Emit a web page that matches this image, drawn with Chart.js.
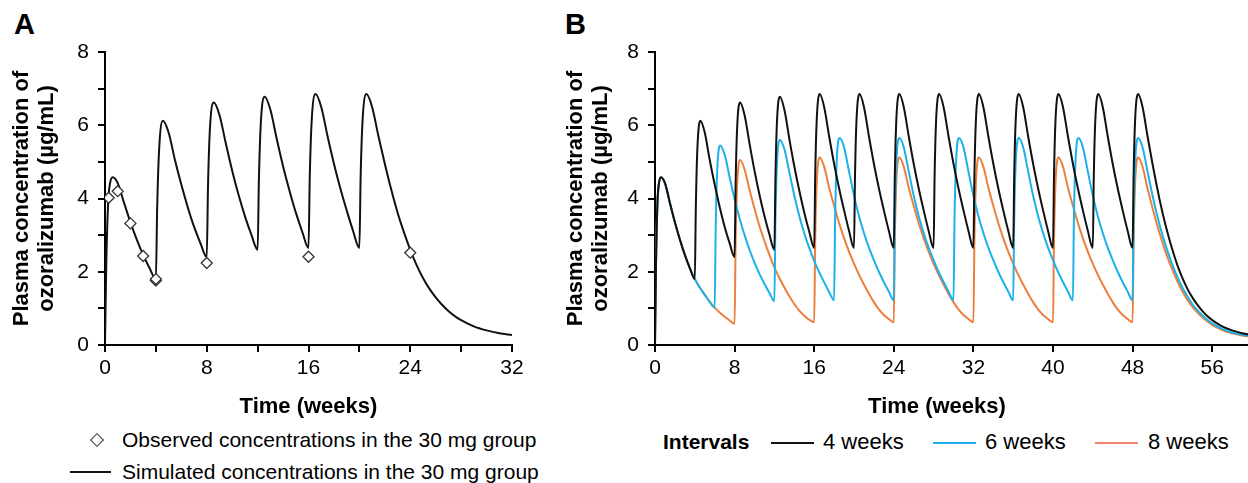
<!DOCTYPE html>
<html>
<head>
<meta charset="utf-8">
<script src="https://cdn.jsdelivr.net/npm/chart.js@4.4.1/dist/chart.umd.min.js"></script>
<style>
  html, body { margin: 0; padding: 0; background: #fff; overflow: hidden; }
  body { width: 1248px; height: 483px; position: relative; font-family: 'Liberation Sans', Arial, sans-serif; color: #000; }
  .panel { position: absolute; top: 0; }
  .tag { position: absolute; font-weight: bold; font-size: 29px; }
  .leg { position: absolute; font-size: 21px; white-space: nowrap; line-height: 24px; }
  .legB { font-size: 22px; }
  .swatch { position: absolute; height: 2px; }
  .diamond { position: absolute; width: 8px; height: 8px; border: 1.3px solid #333; transform: rotate(45deg); background: #fff; }
</style>
</head>
<body>
<div class="tag" style="left:14px;top:8px;">A</div>
<div class="tag" style="left:565px;top:8px;">B</div>
<canvas id="chartA" class="panel" style="left:0;" width="560" height="420"></canvas>
<canvas id="chartB" class="panel" style="left:560px;" width="692" height="420"></canvas>

<!-- leyenda panel A -->
<div class="diamond" style="left:92px;top:435px;"></div>
<div class="leg" style="left:122px;top:428px;">Observed concentrations in the 30 mg group</div>
<div class="swatch" style="left:70px;top:471px;width:41px;background:#111;"></div>
<div class="leg" style="left:122px;top:460px;">Simulated concentrations in the 30 mg group</div>

<!-- leyenda panel B -->
<div class="leg legB" style="left:663px;top:430px;font-weight:bold;font-size:21px;">Intervals</div>
<div class="swatch" style="left:771px;top:442px;width:43px;background:#111;"></div>
<div class="leg legB" style="left:823px;top:430px;">4 weeks</div>
<div class="swatch" style="left:933px;top:442px;width:43px;background:#1ab1ea;"></div>
<div class="leg legB" style="left:985px;top:430px;">6 weeks</div>
<div class="swatch" style="left:1095px;top:442px;width:43px;background:#f5836f;"></div>
<div class="leg legB" style="left:1148px;top:430px;">8 weeks</div>

<script>
// Datos: [semana, concentración µg/mL]

// primera dosis (común a los tres intervalos hasta la semana 4)
var primeraDosis = [[0,0],[0.1,2.2],[0.25,3.9],[0.4,4.42],[0.6,4.58],[1,4.42],[1.5,3.88],[2,3.35],[2.5,2.88],[3,2.46],[3.5,2.1]];

// cada 4 semanas, dosis 4 a 16
var q4wInicio = [
  [4,1.8],[4.1,3.7],[4.25,5.3],[4.55,6.12],[5,5.8],[5.5,5.05],[6,4.38],[6.5,3.77],[7,3.23],[7.5,2.78],
  [8,2.4],[8.1,4.35],[8.25,5.9],[8.55,6.62],[9,6.28],[9.5,5.5],[10,4.76],[10.5,4.1],[11,3.52],[11.5,3.02],
  [12,2.6],[12.1,4.5],[12.25,6.05],[12.55,6.78],[13,6.43],[13.5,5.63],[14,4.88],[14.5,4.22],[15,3.62],[15.5,3.1],
  [16,2.65],[16.1,4.6],[16.25,6.12],[16.55,6.85],[17,6.5],[17.5,5.7],[18,4.95],[18.5,4.28],[19,3.68],[19.5,3.12]
];

// panel A: última dosis en la semana 20 y eliminación
var q4wFinalA = [
  [20,2.65],[20.1,4.6],[20.25,6.12],[20.55,6.85],[21,6.5],[21.5,5.7],[22,4.95],[22.5,4.25],[23,3.62],[23.5,3.08],
  [24,2.6],[24.5,2.18],[25,1.83],[25.5,1.54],[26,1.3],[26.5,1.1],[27,0.93],[27.5,0.79],[28,0.68],[29,0.51],[30,0.4],[31,0.32],[32,0.27]
];

// panel B: cada 4 semanas, dosis 20 a 44
var q4wMedio = [
  [20,2.65],[20.1,4.6],[20.25,6.12],[20.55,6.85],[21,6.5],[21.5,5.7],[22,4.95],[22.5,4.28],[23,3.68],[23.5,3.12],
  [24,2.65],[24.1,4.6],[24.25,6.12],[24.55,6.85],[25,6.5],[25.5,5.7],[26,4.95],[26.5,4.28],[27,3.68],[27.5,3.12],
  [28,2.65],[28.1,4.6],[28.25,6.12],[28.55,6.85],[29,6.5],[29.5,5.7],[30,4.95],[30.5,4.28],[31,3.68],[31.5,3.12],
  [32,2.65],[32.1,4.6],[32.25,6.12],[32.55,6.85],[33,6.5],[33.5,5.7],[34,4.95],[34.5,4.28],[35,3.68],[35.5,3.12],
  [36,2.65],[36.1,4.6],[36.25,6.12],[36.55,6.85],[37,6.5],[37.5,5.7],[38,4.95],[38.5,4.28],[39,3.68],[39.5,3.12],
  [40,2.65],[40.1,4.6],[40.25,6.12],[40.55,6.85],[41,6.5],[41.5,5.7],[42,4.95],[42.5,4.28],[43,3.68],[43.5,3.12],
  [44,2.65],[44.1,4.6],[44.25,6.12],[44.55,6.85],[45,6.5],[45.5,5.7],[46,4.95],[46.5,4.28],[47,3.68],[47.5,3.12]
];
var q4wFinalB = [
  [48,2.65],[48.1,4.6],[48.25,6.12],[48.55,6.85],[49,6.5],[49.5,5.7],[50,4.95],[50.5,4.25],[51,3.62],[51.5,3.08],
  [52,2.6],[52.5,2.18],[53,1.83],[53.5,1.54],[54,1.3],[54.5,1.1],[55,0.93],[55.5,0.79],[56,0.68],[57,0.51],[58,0.4],[59,0.32],[60,0.27]
];

// cada 6 semanas
var q6w = [
  [4,1.8],[4.5,1.57],[5,1.37],[5.5,1.18],
  [6,1.02],[6.1,3.2],[6.25,4.75],[6.55,5.45],[7,5.2],[7.5,4.58],[8,3.98],[8.5,3.46],[9,3.0],[9.5,2.6],[10,2.25],[10.5,1.94],[11,1.67],[11.5,1.42],
  [12,1.2],[12.1,3.35],[12.25,4.9],[12.55,5.6],[13,5.35],[13.5,4.72],[14,4.08],[14.5,3.52],[15,3.05],[15.5,2.65],[16,2.3],[16.5,1.99],[17,1.71],[17.5,1.45],
  [18,1.22],[18.1,3.4],[18.25,4.95],[18.55,5.65],[19,5.4],[19.5,4.74],[20,4.08],[20.5,3.52],[21,3.06],[21.5,2.66],[22,2.32],[22.5,2.0],[23,1.72],[23.5,1.46],
  [24,1.22],[24.1,3.4],[24.25,4.95],[24.55,5.65],[25,5.4],[25.5,4.74],[26,4.08],[26.5,3.52],[27,3.06],[27.5,2.66],[28,2.32],[28.5,2.0],[29,1.72],[29.5,1.46],
  [30,1.22],[30.1,3.4],[30.25,4.95],[30.55,5.65],[31,5.4],[31.5,4.74],[32,4.08],[32.5,3.52],[33,3.06],[33.5,2.66],[34,2.32],[34.5,2.0],[35,1.72],[35.5,1.46],
  [36,1.22],[36.1,3.4],[36.25,4.95],[36.55,5.65],[37,5.4],[37.5,4.74],[38,4.08],[38.5,3.52],[39,3.06],[39.5,2.66],[40,2.32],[40.5,2.0],[41,1.72],[41.5,1.46],
  [42,1.22],[42.1,3.4],[42.25,4.95],[42.55,5.65],[43,5.4],[43.5,4.74],[44,4.08],[44.5,3.52],[45,3.06],[45.5,2.66],[46,2.32],[46.5,2.0],[47,1.72],[47.5,1.46],
  [48,1.22],[48.1,3.4],[48.25,4.95],[48.55,5.65],[49,5.4],[49.5,4.74],[50,4.08],[50.5,3.5],[51,3.0],[51.5,2.57],[52,2.19],[52.5,1.86],[53,1.57],[53.5,1.33],
  [54,1.12],[54.5,0.95],[55,0.81],[55.5,0.69],[56,0.59],[57,0.44],[58,0.34],[59,0.28],[60,0.24]
];

// cada 8 semanas
var q8w = [
  [4,1.8],[4.5,1.57],[5,1.37],[5.5,1.18],[6,1.02],[6.5,0.89],[7,0.77],[7.5,0.67],
  [8,0.58],[8.1,2.8],[8.25,4.33],[8.55,5.05],[9,4.8],[9.5,4.24],[10,3.72],[10.5,3.25],[11,2.84],[11.5,2.46],[12,2.12],[12.5,1.83],[13,1.57],[13.5,1.33],[14,1.12],[14.5,0.94],[15,0.8],[15.5,0.69],
  [16,0.62],[16.1,2.85],[16.25,4.4],[16.55,5.12],[17,4.87],[17.5,4.3],[18,3.8],[18.5,3.33],[19,2.92],[19.5,2.55],[20,2.22],[20.5,1.92],[21,1.65],[21.5,1.4],[22,1.17],[22.5,0.97],[23,0.82],[23.5,0.71],
  [24,0.62],[24.1,2.85],[24.25,4.4],[24.55,5.12],[25,4.87],[25.5,4.3],[26,3.8],[26.5,3.33],[27,2.92],[27.5,2.55],[28,2.22],[28.5,1.92],[29,1.65],[29.5,1.4],[30,1.17],[30.5,0.97],[31,0.82],[31.5,0.71],
  [32,0.62],[32.1,2.85],[32.25,4.4],[32.55,5.12],[33,4.87],[33.5,4.3],[34,3.8],[34.5,3.33],[35,2.92],[35.5,2.55],[36,2.22],[36.5,1.92],[37,1.65],[37.5,1.4],[38,1.17],[38.5,0.97],[39,0.82],[39.5,0.71],
  [40,0.62],[40.1,2.85],[40.25,4.4],[40.55,5.12],[41,4.87],[41.5,4.3],[42,3.8],[42.5,3.33],[43,2.92],[43.5,2.55],[44,2.22],[44.5,1.92],[45,1.65],[45.5,1.4],[46,1.17],[46.5,0.97],[47,0.82],[47.5,0.71],
  [48,0.62],[48.1,2.85],[48.25,4.4],[48.55,5.12],[49,4.87],[49.5,4.28],[50,3.74],[50.5,3.24],[51,2.8],[51.5,2.4],[52,2.05],[52.5,1.74],[53,1.47],[53.5,1.24],
  [54,1.05],[54.5,0.89],[55,0.76],[55.5,0.65],[56,0.55],[57,0.41],[58,0.32],[59,0.26],[60,0.22]
];

// concentraciones observadas, grupo 30 mg
var obsSemanas = [0.29, 1, 2, 3, 4, 4, 8, 16, 24];
var obsConc = [4.02, 4.2, 3.32, 2.43, 1.76, 1.8, 2.24, 2.41, 2.52];

var ejeYTicks = [0, 1, 2, 3, 4, 5, 6, 7, 8];
var ejeXTicksA = [0, 4, 8, 12, 16, 20, 24, 28, 32];
var ejeXTicksB = [0, 8, 16, 24, 32, 40, 48, 56];

var FUENTE = "'Liberation Sans', Arial, sans-serif";
var NEGRO = '#111';
var AZUL = '#1ab1ea';
var NARANJA = '#ee7f3b';
var LARGO_MARCA = 7;

function aPuntos(arr) {
  return arr.map(function (p) { return { x: p[0], y: p[1] }; });
}

function lineaDataset(label, puntos, color) {
  return {
    label: label,
    data: aPuntos(puntos),
    borderColor: color,
    backgroundColor: color,
    borderWidth: 2,
    pointRadius: 0,
    cubicInterpolationMode: 'monotone',
    fill: false
  };
}

// marcas de los ejes (también las menores sin etiqueta)
var marcasEje = {
  id: 'marcasEje',
  afterDraw: function (chart) {
    var ctx = chart.ctx;
    var sx = chart.scales.x, sy = chart.scales.y;
    ctx.save();
    ctx.strokeStyle = '#000';
    ctx.lineWidth = 2;
    sx.ticks.forEach(function (t) {
      var px = Math.round(sx.getPixelForValue(t.value));
      ctx.beginPath(); ctx.moveTo(px, sx.top); ctx.lineTo(px, sx.top + LARGO_MARCA); ctx.stroke();
    });
    sy.ticks.forEach(function (t) {
      var py = Math.round(sy.getPixelForValue(t.value));
      ctx.beginPath(); ctx.moveTo(sy.right, py); ctx.lineTo(sy.right - LARGO_MARCA, py); ctx.stroke();
    });
    ctx.restore();
  }
};

var rejilla = {
  drawOnChartArea: false,
  drawTicks: true,
  tickLength: LARGO_MARCA,
  color: '#000',
  lineWidth: 2,
  tickColor: '#000',
  tickWidth: 2
};

function ejeY(anchoEje) {
  return {
    type: 'linear',
    min: 0,
    max: 8,
    afterBuildTicks: function (scale) { scale.ticks = ejeYTicks.map(function (v) { return { value: v }; }); },
    afterFit: function (scale) { scale.width = anchoEje; },
    ticks: {
      color: '#000',
      font: { family: FUENTE, size: 21 },
      padding: 9,
      autoSkip: false,
      callback: function (v) { return v % 2 === 0 ? String(v) : ''; }
    },
    grid: Object.assign({}, rejilla),
    border: { display: true, color: '#000', width: 2 },
    title: {
      display: true,
      text: ['Plasma concentration of', 'ozoralizumab (µg/mL)'],
      color: '#000',
      font: { family: FUENTE, size: 22, weight: 'bold', lineHeight: 1.15 },
      padding: { top: 0, bottom: 0 }
    }
  };
}

function ejeX(max, valores, titulo) {
  return {
    type: 'linear',
    min: 0,
    max: max,
    afterBuildTicks: function (scale) { scale.ticks = valores.map(function (v) { return { value: v }; }); },
    afterFit: function (scale) { scale.height = 75; },
    ticks: {
      color: '#000',
      font: { family: FUENTE, size: 21 },
      padding: 4,
      maxRotation: 0,
      autoSkip: false,
      callback: function (v) { return v % 8 === 0 ? String(v) : ''; }
    },
    grid: Object.assign({}, rejilla),
    border: { display: true, color: '#000', width: 2 },
    title: {
      display: true,
      text: titulo,
      color: '#000',
      font: { family: FUENTE, size: 22, weight: 'bold', lineHeight: 1.2 },
      padding: { top: 0, bottom: 0 }
    }
  };
}

// Panel A
var ctxA = document.getElementById('chartA').getContext('2d');
var chartA = new Chart(ctxA, {
  type: 'line',
  data: {
    datasets: [{
      label: 'Observed concentrations in the 30 mg group',
      type: 'scatter',
      data: obsSemanas.map(function (s, i) { return { x: s, y: obsConc[i] }; }),
      pointStyle: 'rectRot',
      pointRadius: 5.5,
      pointBorderWidth: 1.3,
      pointBorderColor: '#333',
      pointBackgroundColor: '#fff',
      showLine: false
    },
    lineaDataset('Simulated concentrations in the 30 mg group', primeraDosis.concat(q4wInicio, q4wFinalA), NEGRO)]
  },
  options: {
    responsive: false,
    animation: false,
    layout: { padding: { left: 9, right: 48, top: 52, bottom: 0 } },
    scales: {
      x: ejeX(32, ejeXTicksA, 'Time (weeks)'),
      y: ejeY(96)
    },
    plugins: { legend: { display: false }, tooltip: { enabled: false } }
  },
  plugins: [marcasEje]
});

// Panel B (el eje sigue más allá del borde derecho, el título va algo a la izquierda)
var ctxB = document.getElementById('chartB').getContext('2d');
var chartB = new Chart(ctxB, {
  type: 'line',
  data: {
    datasets: [
      lineaDataset('4 weeks', primeraDosis.concat(q4wInicio, q4wMedio, q4wFinalB), NEGRO),
      lineaDataset('6 weeks', primeraDosis.concat(q6w), AZUL),
      lineaDataset('8 weeks', primeraDosis.concat(q8w), NARANJA)
    ]
  },
  options: {
    responsive: false,
    animation: false,
    layout: { padding: { left: 3, right: 0, top: 52, bottom: 0 } },
    scales: {
      x: ejeX(60, ejeXTicksB, 'Time (weeks)\u2003\u2002'),
      y: ejeY(92)
    },
    plugins: { legend: { display: false }, tooltip: { enabled: false } }
  },
  plugins: [marcasEje]
});
</script>
</body>
</html>
